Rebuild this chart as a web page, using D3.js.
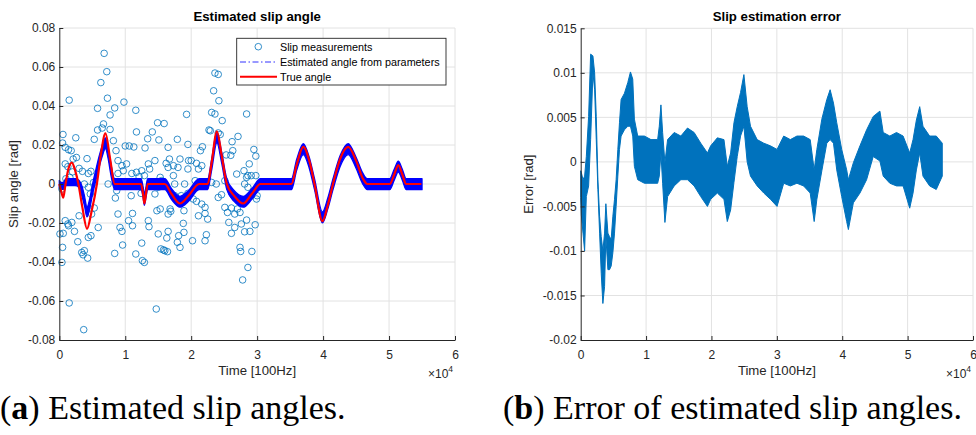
<!DOCTYPE html>
<html>
<head>
<meta charset="utf-8">
<script src="https://cdn.jsdelivr.net/npm/d3@7/dist/d3.min.js"></script>
<style>
  html, body { margin: 0; padding: 0; background: #fff; }
  svg { display: block; }
</style>
</head>
<body>
<svg id="fig" width="976" height="435"></svg>
<script>
// ---------- data (time in units of 10^4 samples at 100 Hz) ----------

// Slip measurements (scatter)
const slipT = [0.68,0.72,0.63,0.73,0.15,0.98,0.58,0.84,1.16,0.77,1.49,1.59,0.056,0.25,0.58,0.67,0.65,0.77,0.53,0.82,
  1.17,1.41,1.34,0.05,0.09,0.18,0.14,1.0,1.06,1.13,1.30,0.86,0.21,0.26,0.42,0.09,0.13,0.30,0.35,0.44,
  0.48,0.89,0.95,1.02,0.97,0.89,1.10,1.17,1.25,1.35,1.45,1.37,1.21,1.29,0.16,0.24,0.38,0.44,0.52,0.74,
  2.36,2.41,2.34,2.42,2.31,2.36,2.47,1.93,2.84,2.29,2.41,2.71,1.79,1.51,1.95,1.65,2.17,2.14,2.63,2.53,
  2.60,2.95,1.67,1.62,1.83,1.96,2.0,2.08,2.16,2.11,1.95,1.80,1.73,1.65,2.88,2.80,2.69,2.91,2.86,1.53,
  1.73,1.75,1.90,2.06,2.11,2.31,2.38,2.51,2.84,2.98,2.62,2.44,2.98,3.0,2.99,2.97,0.04,0.47,0.87,0.85,
  1.09,1.24,1.45,1.50,0.30,0.49,0.53,0.89,1.11,0.09,0.19,0.14,0.06,0.23,0.28,0.44,0.48,0.59,0.92,0.95,
  1.05,1.11,1.35,1.36,1.50,1.25,0.96,0.84,1.16,0.05,0.34,0.38,0.36,0.43,0.04,1.26,1.29,0.15,1.47,0.37,
  1.48,1.53,1.68,1.65,1.69,1.89,2.11,2.21,2.25,2.51,2.55,2.61,2.66,2.70,2.74,2.57,2.66,2.61,2.76,2.84,
  2.81,2.89,1.65,1.63,1.79,1.81,1.89,2.02,2.21,2.23,1.88,1.54,1.58,1.60,1.64,1.83,2.74,2.75,2.92,2.86,
  2.78,1.55,2.81,2.86,1.75,1.85,1.95,2.03,2.08,2.16,2.21,2.41,2.46,0.01,0.13,2.27,0.10,0.20];
const slipV = [0.067,0.0576,0.052,0.044,0.043,0.042,0.0388,0.039,0.0378,0.0354,0.0314,0.031,0.0254,0.0237,0.0277,0.0308,0.0287,0.028,0.0229,0.0222,
  0.0267,0.0267,0.0232,0.021,0.0188,0.0171,0.0176,0.0195,0.0195,0.019,0.0185,0.0171,0.0128,0.0136,0.013,0.0103,0.0089,0.008,0.0065,0.0054,
  0.0065,0.012,0.0094,0.0103,0.0068,0.0054,0.0054,0.006,0.0068,0.0103,0.012,0.0077,0.0037,0.0043,0.0034,0.0008,0.0,-0.0017,0.0008,0.0,
  0.0569,0.0562,0.0478,0.0427,0.0367,0.0359,0.0325,0.0357,0.0359,0.0273,0.0262,0.0244,0.0229,0.0226,0.0203,0.0188,0.0191,0.0171,0.0171,0.0149,
  0.0147,0.0177,0.0128,0.0106,0.0128,0.012,0.012,0.0106,0.0094,0.0077,0.0077,0.0085,0.0094,0.0085,0.0103,0.0068,0.0051,0.0043,0.0043,0.0034,
  0.0043,0.0,0.0,0.0017,0.0,0.0008,0.0,0.0017,0.0034,0.0143,0.0217,0.0254,0.0043,-0.006,-0.0077,-0.0209,-0.0026,-0.0051,-0.0034,-0.0072,
  -0.006,-0.0048,-0.0051,-0.0017,-0.0163,-0.0154,-0.0123,-0.0154,-0.0151,-0.0188,-0.0197,-0.0214,-0.0253,-0.0243,-0.0296,-0.0274,-0.0265,-0.0223,-0.0223,-0.0243,
  -0.0188,-0.0214,-0.0188,-0.0219,-0.0256,-0.0303,-0.0313,-0.0356,-0.0359,-0.0325,-0.0351,-0.0342,-0.0363,-0.038,-0.0402,-0.0393,-0.0402,-0.061,-0.0641,-0.0747,
  -0.0137,-0.0128,-0.0128,-0.0154,-0.014,-0.0137,-0.0163,-0.0151,-0.018,-0.012,-0.0146,-0.0123,-0.0154,-0.0128,-0.0146,-0.0197,-0.0223,-0.0253,-0.0205,-0.0185,
  -0.0245,-0.0243,-0.0243,-0.0277,-0.0299,-0.0265,-0.0248,-0.0291,-0.0291,-0.026,-0.0202,-0.0333,-0.0338,-0.0342,-0.0347,-0.0325,-0.0325,-0.0346,-0.0346,-0.0428,
  -0.0492,0.0017,0.0,-0.0017,-0.006,-0.006,-0.0048,-0.0077,-0.0089,-0.0103,-0.012,-0.0069,-0.0055,-0.0256,-0.0205,0.0277,0.0027,0.0062];

// Estimated angle from parameters (noisy trace: lower / upper envelope)
const estT = [0,0.03,0.06,0.10,0.15,0.20,0.25,0.30,0.34,0.38,0.42,0.46,0.50,0.55,0.60,0.65,0.70,0.74,0.78,0.84,
  0.90,1.24,1.27,1.29,1.31,1.34,1.40,1.60,1.70,1.83,1.96,2.12,2.25,2.31,2.39,2.46,2.54,2.65,2.79,2.92,
  3.05,3.52,3.60,3.70,3.79,3.87,3.99,4.07,4.15,4.26,4.38,4.50,4.60,4.67,5.01,5.08,5.14,5.20,5.26,5.50];
const estHi = [0.0018,0.0008,0.0008,0.0028,0.0028,0.0028,0.0028,0.0018,-0.0008,-0.0058,-0.0118,-0.0078,-0.0008,0.0067,0.0137,0.0197,0.0237,0.0187,0.0107,0.0027,
  0.0027,0.0027,-0.0013,-0.0053,-0.0023,0.0027,0.0027,0.0027,-0.0023,-0.0063,-0.0033,0.0027,0.0027,0.0127,0.0267,0.0167,0.0027,-0.0033,-0.0063,-0.0023,
  0.0027,0.0027,0.0127,0.0207,0.0137,0.0027,-0.0143,-0.0073,0.0027,0.0147,0.0207,0.0137,0.0057,0.0027,0.0027,0.0077,0.0117,0.0077,0.0027,0.0027];
const estLo = [-0.0018,-0.0028,-0.0028,-0.0008,-0.0008,-0.0008,-0.0008,-0.0018,-0.0059,-0.0109,-0.0169,-0.0129,-0.0059,0.0011,0.0081,0.0141,0.0181,0.0131,0.0051,-0.0029,
  -0.0029,-0.0029,-0.0069,-0.0109,-0.0079,-0.0029,-0.0029,-0.0029,-0.0079,-0.0119,-0.0089,-0.0029,-0.0029,0.0071,0.0211,0.0111,-0.0029,-0.0089,-0.0119,-0.0079,
  -0.0029,-0.0029,0.0071,0.0151,0.0081,-0.0029,-0.0199,-0.0129,-0.0029,0.0091,0.0151,0.0081,0.0001,-0.0029,-0.0029,0.0021,0.0061,0.0021,-0.0029,-0.0029];

// True slip angle
const trueT = [0,0.03,0.06,0.09,0.14,0.19,0.24,0.29,0.35,0.42,0.49,0.57,0.63,0.70,0.77,0.84,0.90,1.24,1.27,1.29,
  1.31,1.34,1.40,1.60,1.70,1.83,1.96,2.12,2.25,2.31,2.39,2.46,2.54,2.65,2.79,2.92,3.05,3.52,3.60,3.70,
  3.79,3.87,3.99,4.07,4.15,4.26,4.38,4.50,4.60,4.67,5.01,5.08,5.14,5.20,5.26,5.49];
const trueV = [0,-0.004,-0.007,-0.001,0.008,0.011,0.007,0,-0.012,-0.023,-0.014,0,0.015,0.026,0.013,0,0,0,-0.005,-0.010,
  -0.006,0,0,0,-0.005,-0.010,-0.006,0,0,0.011,0.027,0.015,0,-0.006,-0.010,-0.005,0,0,0.010,0.019,
  0.012,0,-0.019,-0.011,0,0.013,0.019,0.012,0.003,0,0,0.005,0.0097,0.005,0,0];

// Slip estimation error (noisy trace: lower / upper envelope)
const errT = [0,0.01,0.035,0.06,0.086,0.121,0.152,0.187,0.213,0.238,0.263,0.289,0.314,0.339,0.365,0.385,0.416,0.441,0.466,0.492,
  0.517,0.542,0.568,0.593,0.618,0.669,0.72,0.761,0.796,0.821,0.872,0.974,1.075,1.177,1.202,1.227,1.253,1.288,1.329,1.43,
  1.532,1.633,1.735,1.836,1.938,1.988,2.09,2.191,2.242,2.293,2.344,2.394,2.445,2.496,2.546,2.597,2.699,2.80,2.902,3.003,
  3.105,3.206,3.307,3.409,3.51,3.571,3.612,3.688,3.764,3.815,3.866,3.916,3.992,4.068,4.094,4.17,4.271,4.373,4.474,4.576,
  4.627,4.728,4.83,4.931,5.032,5.083,5.134,5.185,5.235,5.337,5.438,5.53];
const errHi = [-0.001,-0.0012,-0.002,-0.0016,0.0006,0.0051,0.0121,0.0119,0.0100,0.0051,-0.002,-0.0061,-0.0084,-0.010,-0.0080,-0.0047,-0.0080,-0.0084,-0.0087,-0.0061,
  -0.0042,-0.0020,0.0014,0.0044,0.0070,0.0077,0.0089,0.0101,0.0093,0.0048,0.0029,0.0029,0.0025,0.0025,0.0040,0.0064,0.0033,-0.0001,0.0025,0.0033,
  0.0029,0.0038,0.0033,0.0021,0.0010,0.0018,0.0027,0.0025,-0.0005,0.0010,0.0044,0.0062,0.0078,0.0098,0.0062,0.0040,0.0025,0.0021,0.0018,0.0014,
  0.0029,0.0025,0.0029,0.0029,0.0025,-0.0009,0.0014,0.0048,0.0070,0.0081,0.0066,0.0044,0.0014,-0.0009,-0.0020,-0.0001,0.0018,0.0036,0.0051,0.0057,
  0.0033,0.0029,0.0033,0.0029,0.0010,0.0025,0.0047,0.0062,0.0040,0.0029,0.0029,0.0021];
const errLo = [-0.004,-0.006,-0.008,-0.0100,-0.0039,-0.0027,0.0025,0.0100,0.0081,0.0025,-0.0031,-0.008,-0.0125,-0.0159,-0.014,-0.0084,-0.0121,-0.0121,-0.0117,-0.0102,
  -0.0080,-0.0050,-0.0016,0.0014,0.0029,0.0036,0.0040,0.0040,0.0029,-0.0005,-0.0020,-0.0024,-0.0024,-0.0024,-0.0016,0.0010,-0.0024,-0.0068,-0.0039,-0.0027,
  -0.0020,-0.0020,-0.0027,-0.0039,-0.0050,-0.0042,-0.0035,-0.0042,-0.0067,-0.0054,-0.0023,0.0006,0.0029,0.0040,0.0000,-0.0016,-0.0027,-0.0035,-0.0042,-0.0050,
  -0.0024,-0.0027,-0.0024,-0.0027,-0.0035,-0.0067,-0.0042,-0.0010,0.0021,0.0025,0.0021,-0.0009,-0.0039,-0.0067,-0.0076,-0.0046,-0.0035,-0.0020,0.0006,0.0001,
  -0.0016,-0.0024,-0.0027,-0.0027,-0.0052,-0.0035,-0.0009,0.0010,-0.0016,-0.0027,-0.0031,-0.0016];

// Axis ticks
const timeTicks = [0, 1, 2, 3, 4, 5, 6];
const slipTicks = [-0.08, -0.06, -0.04, -0.02, 0, 0.02, 0.04, 0.06, 0.08];
const slipTickLabels = ["-0.08", "-0.06", "-0.04", "-0.02", "0", "0.02", "0.04", "0.06", "0.08"];
const errTicks = [-0.02, -0.015, -0.01, -0.005, 0, 0.005, 0.01, 0.015];
const errTickLabels = ["-0.02", "-0.015", "-0.01", "-0.005", "0", "0.005", "0.01", "0.015"];

const legendLabels = ["Slip measurements", "Estimated angle from parameters", "True angle"];

// ---------- drawing ----------
const FONT = "'Liberation Sans', Arial, Helvetica, sans-serif";
const AXC = "#262626";
const GRID = "#e2e2e2";
const svg = d3.select("#fig");

function makePanel(cfg) {
  const x = d3.scaleLinear().domain([0, 6]).range([cfg.left, cfg.right]);
  const y = d3.scaleLinear().domain(cfg.yDomain).range([cfg.bottom, cfg.top]);
  const g = svg.append("g");

  // grid
  const grid = g.append("g");
  grid.selectAll("line.gx").data(timeTicks.slice(1)).join("line")
    .attr("x1", d => x(d)).attr("x2", d => x(d))
    .attr("y1", cfg.top).attr("y2", cfg.bottom)
    .attr("stroke", GRID).attr("stroke-width", 1);
  grid.selectAll("line.gy").data(cfg.yTicks.slice(1)).join("line")
    .attr("x1", cfg.left).attr("x2", cfg.right)
    .attr("y1", d => y(d)).attr("y2", d => y(d))
    .attr("stroke", GRID).attr("stroke-width", 1);

  const plot = g.append("g");

  // axes
  const xAxis = d3.axisBottom(x).tickValues(timeTicks).tickFormat(d3.format("d"))
    .tickSizeInner(-4).tickSizeOuter(0).tickPadding(10);
  const yAxis = d3.axisLeft(y).tickValues(cfg.yTicks)
    .tickFormat((d, i) => cfg.yLabels[i])
    .tickSizeInner(-4).tickSizeOuter(0).tickPadding(4);

  const gx = g.append("g").attr("transform", `translate(0,${cfg.bottom})`).call(xAxis);
  const gy = g.append("g").attr("transform", `translate(${cfg.left},0)`).call(yAxis);
  [gx, gy].forEach(a => {
    a.select(".domain").attr("stroke", AXC).attr("stroke-width", 1);
    a.selectAll(".tick line").attr("stroke", AXC).attr("stroke-width", 1);
    a.selectAll(".tick text").attr("fill", AXC).style("font-family", FONT).style("font-size", "12px");
  });

  // title
  g.append("text")
    .attr("x", (cfg.left + cfg.right) / 2).attr("y", 21)
    .attr("text-anchor", "middle")
    .style("font-family", FONT).style("font-size", "13.2px").style("font-weight", "bold")
    .attr("fill", "#000").text(cfg.title);

  // x label
  g.append("text")
    .attr("x", (cfg.left + cfg.right) / 2).attr("y", 375)
    .attr("text-anchor", "middle")
    .style("font-family", FONT).style("font-size", "13.2px")
    .attr("fill", AXC).text("Time [100Hz]");

  // exponent marker
  const ex = g.append("text")
    .attr("x", cfg.right - 27).attr("y", 378)
    .style("font-family", FONT).style("font-size", "12px").attr("fill", AXC);
  ex.append("tspan").text("\u00d710");
  ex.append("tspan").attr("dy", -6).style("font-size", "8.5px").text("4");

  // y label
  g.append("text")
    .attr("transform", `translate(${cfg.yLabelX},${(cfg.top + cfg.bottom) / 2}) rotate(-90)`)
    .attr("text-anchor", "middle")
    .style("font-family", FONT).style("font-size", "13.2px")
    .attr("fill", AXC).text(cfg.yLabel);

  return { x, y, plot };
}

// ----- left panel: estimated slip angle -----
const L = makePanel({
  left: 59.3, right: 455, top: 28, bottom: 340,
  yDomain: [-0.08, 0.08], yTicks: slipTicks, yLabels: slipTickLabels,
  title: "Estimated slip angle", yLabel: "Slip angle [rad]", yLabelX: 18
});

L.plot.append("g").selectAll("circle")
  .data(d3.range(slipT.length)).join("circle")
  .attr("cx", i => L.x(slipT[i])).attr("cy", i => L.y(slipV[i]))
  .attr("r", 3.3).attr("fill", "none")
  .attr("stroke", "#0072BD").attr("stroke-width", 0.8);

const estArea = d3.area()
  .x(i => L.x(estT[i])).y0(i => L.y(estLo[i])).y1(i => L.y(estHi[i]))
  .curve(d3.curveMonotoneX);
L.plot.append("path")
  .attr("d", estArea(d3.range(estT.length)))
  .attr("fill", "#0000ff").attr("stroke", "#0000ff").attr("stroke-width", 1.3)
  .attr("stroke-linejoin", "round");

const trueLine = d3.line()
  .x(i => L.x(trueT[i])).y(i => L.y(trueV[i]))
  .curve(d3.curveMonotoneX);
L.plot.append("path")
  .attr("d", trueLine(d3.range(trueT.length)))
  .attr("fill", "none").attr("stroke", "#ff0000").attr("stroke-width", 2.2);

// legend
const lg = svg.append("g");
lg.append("rect").attr("x", 236.7).attr("y", 38.3).attr("width", 209.3).attr("height", 46.7)
  .attr("fill", "#fff").attr("stroke", AXC).attr("stroke-width", 0.9);
const rowsY = [46.7, 62, 76.7];
lg.append("circle").attr("cx", 258.3).attr("cy", rowsY[0]).attr("r", 3.3)
  .attr("fill", "none").attr("stroke", "#0072BD").attr("stroke-width", 0.8);
lg.append("line").attr("x1", 240).attr("x2", 277).attr("y1", rowsY[1]).attr("y2", rowsY[1])
  .attr("stroke", "#3333ff").attr("stroke-width", 1).attr("stroke-dasharray", "6,2.5,1.5,2.5");
lg.append("line").attr("x1", 240).attr("x2", 277).attr("y1", rowsY[2]).attr("y2", rowsY[2])
  .attr("stroke", "#ff0000").attr("stroke-width", 2);
lg.selectAll("text.lt").data(legendLabels).join("text")
  .attr("x", 280).attr("y", (d, i) => rowsY[i] + 3.8)
  .style("font-family", FONT).style("font-size", "10.8px").attr("fill", "#000")
  .text(d => d);

// ----- right panel: slip estimation error -----
const R = makePanel({
  left: 580.7, right: 973, top: 28.3, bottom: 340,
  yDomain: [-0.02, 0.015], yTicks: errTicks, yLabels: errTickLabels,
  title: "Slip estimation error", yLabel: "Error [rad]", yLabelX: 533
});

const errArea = d3.area()
  .x(i => R.x(errT[i])).y0(i => R.y(errLo[i])).y1(i => R.y(errHi[i]));
R.plot.append("path")
  .attr("d", errArea(d3.range(errT.length)))
  .attr("fill", "#0072BD").attr("stroke", "#0072BD").attr("stroke-width", 1)
  .attr("stroke-linejoin", "round");

// ----- sub-figure captions -----
const SERIF = "'Liberation Serif', 'Times New Roman', serif";
function caption(x, letter, rest) {
  const t = svg.append("text").attr("x", x).attr("y", 419)
    .style("font-family", SERIF).style("font-size", "34px").attr("fill", "#000");
  t.append("tspan").text("(");
  t.append("tspan").style("font-weight", "bold").text(letter);
  t.append("tspan").text(") " + rest);
}
caption(0, "a", "Estimated slip angles.");
caption(503, "b", "Error of estimated slip angles.");
</script>
</body>
</html>
